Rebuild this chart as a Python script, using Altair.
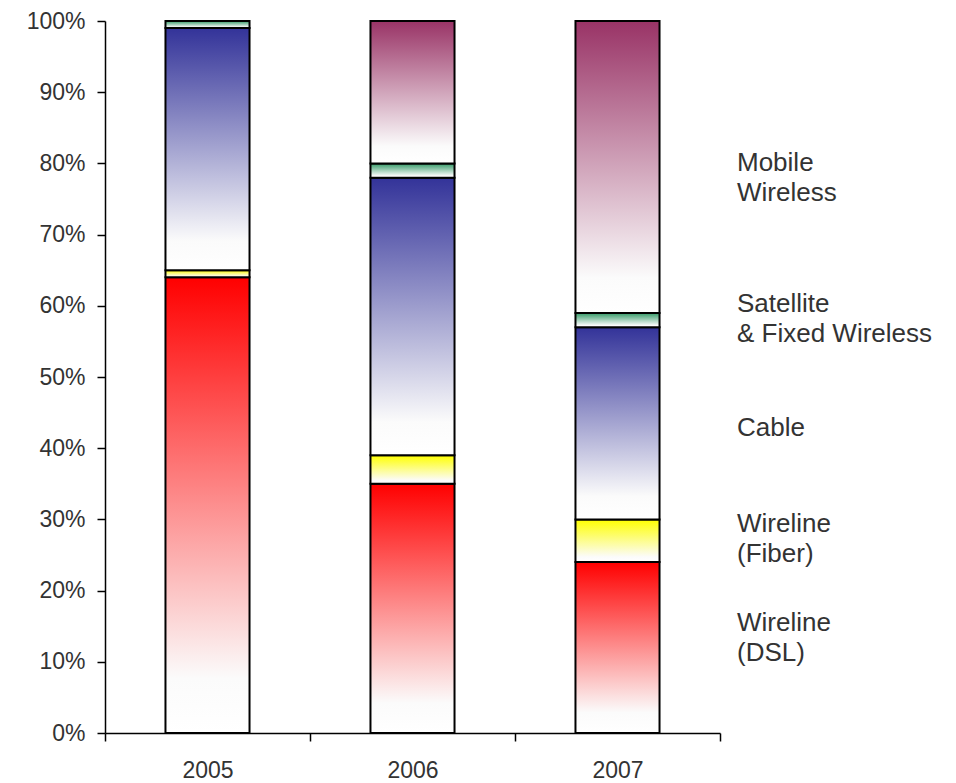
import altair as alt
import pandas as pd

years = ["2005", "2006", "2007"]
categories = ["Wireline (DSL)", "Wireline (Fiber)", "Cable",
              "Satellite & Fixed Wireless", "Mobile Wireless"]
dsl = [64, 35, 24]
fiber = [1, 4, 6]
cable = [34, 39, 27]
satellite = [1, 2, 2]
mobile = [0, 20, 41]
series = [dsl, fiber, cable, satellite, mobile]
top_colors = ["#FF0000", "#FFFF00", "#333399", "#339966", "#993366"]

label_texts = ["Wireline\n(DSL)", "Wireline\n(Fiber)", "Cable",
               "Satellite\n& Fixed Wireless", "Mobile\nWireless"]
label_pos = [15.4, 29.4, 42.8, 60.3, 80.1]

rows = []
for ci, (cat, vals) in enumerate(zip(categories, series)):
    for yr, v in zip(years, vals):
        rows.append({"year": yr, "category": cat, "order": ci, "value": v})
df = pd.DataFrame(rows)
labels_df = pd.DataFrame({"text": label_texts, "pos": label_pos})

FONT = "Liberation Sans"
TXT = "#333333"

x_enc = alt.X(
    "year:N",
    sort=years,
    scale=alt.Scale(paddingInner=0, paddingOuter=0),
    axis=alt.Axis(title=None, labelAngle=0, tickBand="extent", tickSize=8,
                  tickColor="black", tickWidth=1.5, domainColor="black",
                  domainWidth=1.5, labelFont=FONT, labelFontSize=23,
                  labelColor=TXT, labelPadding=18, grid=False),
)
y_scale = alt.Scale(domain=[0, 100], nice=False)
y_axis = alt.Axis(title=None, values=list(range(0, 101, 10)),
                  labelExpr="datum.value + '%'", tickSize=8,
                  tickColor="black", tickWidth=1.5, domainColor="black",
                  domainWidth=1.5, labelFont=FONT, labelFontSize=23,
                  labelColor=TXT, labelPadding=12, grid=False)

base = alt.Chart(df).transform_stack(
    stack="value", as_=["y0", "y1"], groupby=["year"],
    sort=[alt.SortField("order", order="ascending")],
)

layers = []
for cat, col in zip(categories, top_colors):
    grad = alt.Gradient(
        gradient="linear",
        stops=[alt.GradientStop(color=col, offset=0),
               alt.GradientStop(color="#fbfbfb", offset=0.88),
               alt.GradientStop(color="#ffffff", offset=1)],
        x1=0, x2=0, y1=0, y2=1,
    )
    layer = base.transform_filter(
        (alt.datum.category == cat) & (alt.datum.value > 0)
    ).mark_bar(fill=grad, stroke="black", strokeWidth=2,
               width=alt.RelativeBandSize(0.41)).encode(
        x=x_enc,
        y=alt.Y("y0:Q", scale=y_scale, axis=y_axis),
        y2="y1:Q",
    )
    layers.append(layer)

text_layer = alt.Chart(labels_df).mark_text(
    align="left", baseline="middle", font=FONT, fontSize=26,
    lineHeight=30, color=TXT, lineBreak="\n",
).encode(
    x=alt.value(632),
    y=alt.Y("pos:Q", scale=y_scale),
    text="text:N",
)

chart = alt.layer(*layers, text_layer).properties(
    width=615, height=712,
    autosize=alt.AutoSizeParams(type="none"),
    padding={"left": 97, "top": 13, "right": 225, "bottom": 50},
).configure_view(stroke=None)

chart.save("out.html", embed_options={"renderer": "svg", "actions": False})
